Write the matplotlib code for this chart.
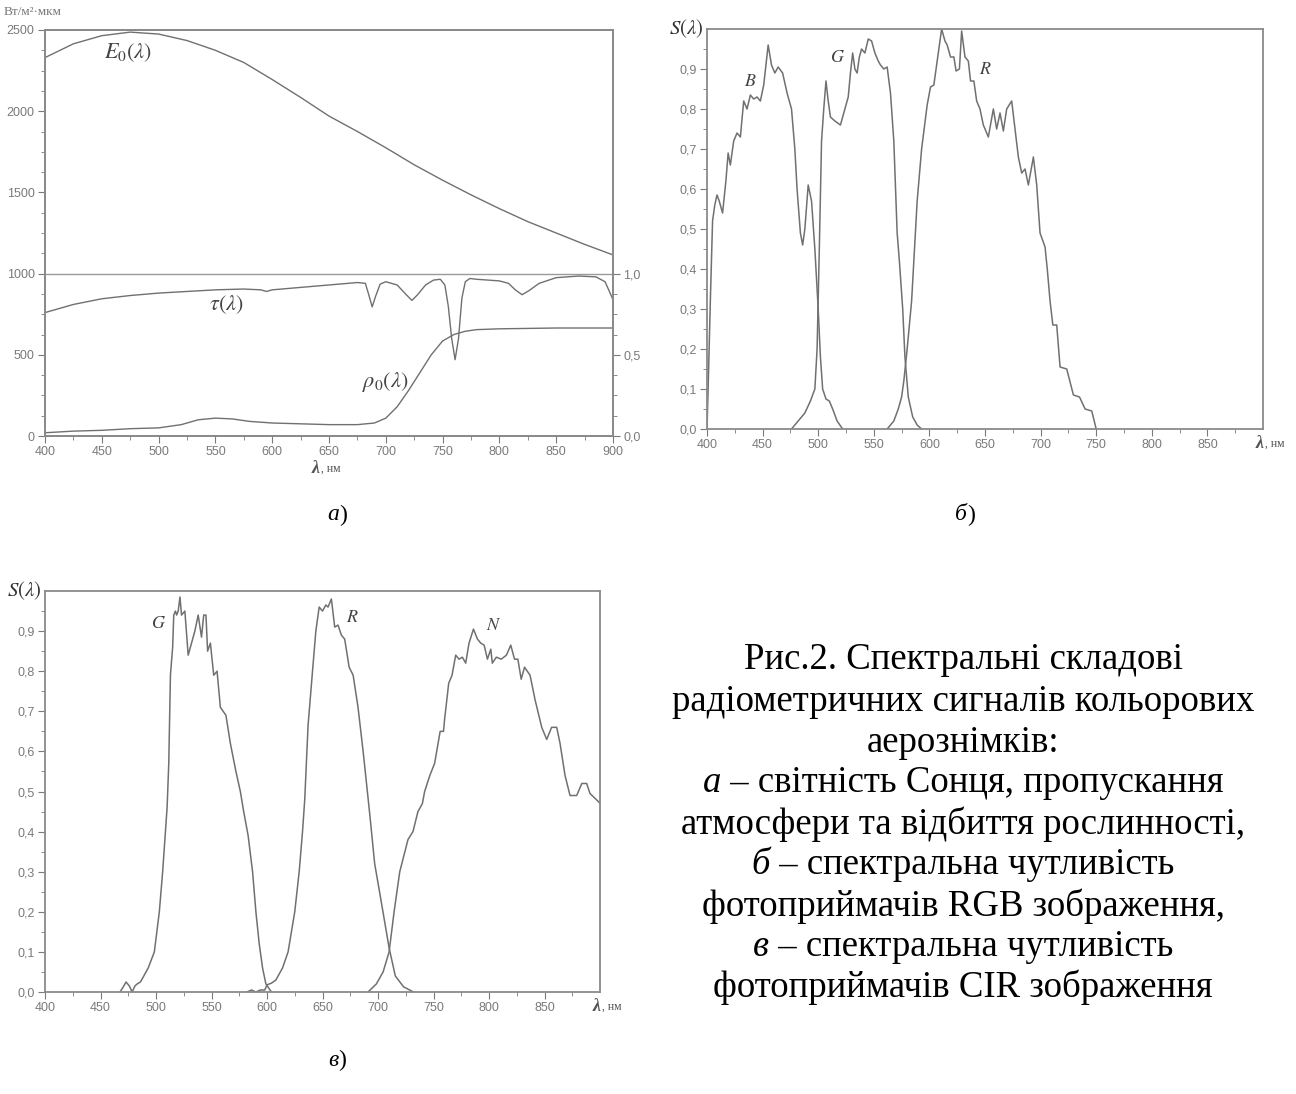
import numpy as np
import matplotlib
matplotlib.use("Agg")
import matplotlib.pyplot as plt
from matplotlib.ticker import FuncFormatter, MultipleLocator

plt.rcParams['font.family'] = ['Liberation Sans', 'DejaVu Sans']
plt.rcParams['mathtext.fontset'] = 'stix'

# ---- панель а: світність Сонця, пропускання атмосфери, відбиття рослинності
lam_E = [400, 425, 450, 475, 500, 525, 550, 575, 600, 625, 650, 675, 700,
         725, 750, 775, 800, 825, 850, 875, 900]
E0 = [2330, 2415, 2465, 2487, 2475, 2435, 2375, 2300, 2195, 2085, 1970, 1875,
      1775, 1670, 1575, 1485, 1400, 1320, 1250, 1180, 1115]

lam_tau = [400, 425, 450, 475, 500, 525, 550, 575, 590, 595, 600, 625, 650,
           675, 682, 685, 688, 691, 695, 700, 710, 718, 723, 728, 735, 742,
           748, 752, 755, 758, 761, 764, 767, 770, 774, 780, 790, 800, 808,
           814, 820, 826, 835, 850, 870, 885, 893, 900]
tau = [0.76, 0.81, 0.845, 0.865, 0.88, 0.89, 0.9, 0.905, 0.9, 0.89, 0.9,
       0.915, 0.93, 0.945, 0.94, 0.87, 0.795, 0.86, 0.935, 0.95, 0.93, 0.87,
       0.835, 0.87, 0.93, 0.96, 0.965, 0.93, 0.8, 0.6, 0.47, 0.6, 0.85, 0.95,
       0.97, 0.965, 0.96, 0.955, 0.94, 0.9, 0.87, 0.895, 0.94, 0.975, 0.985,
       0.98, 0.95, 0.84]

lam_rho = [400, 425, 450, 475, 500, 520, 535, 550, 565, 580, 600, 625, 650,
           675, 690, 700, 710, 720, 730, 740, 750, 760, 770, 780, 800, 850, 900]
rho = [0.02, 0.03, 0.035, 0.045, 0.05, 0.07, 0.1, 0.11, 0.105, 0.09, 0.08,
       0.075, 0.07, 0.07, 0.08, 0.11, 0.18, 0.28, 0.39, 0.5, 0.585, 0.625,
       0.645, 0.655, 0.66, 0.665, 0.665]

# ---- панель б: RGB
lam_bB = [400, 401, 403, 405, 407, 409, 411, 414, 417, 419, 421, 424, 427,
          430, 433, 436, 439, 442, 445, 448, 451, 455, 458, 461, 464, 468,
          472, 476, 479, 481, 484, 486, 488, 491, 494, 497, 500, 502, 504,
          507, 510, 513, 517, 522]
bB = [0.0, 0.1, 0.32, 0.52, 0.56, 0.585, 0.57, 0.54, 0.62, 0.69, 0.66, 0.72,
      0.74, 0.73, 0.82, 0.80, 0.835, 0.825, 0.83, 0.82, 0.86, 0.96, 0.91,
      0.89, 0.905, 0.89, 0.84, 0.80, 0.7, 0.6, 0.49, 0.46, 0.5, 0.61, 0.57,
      0.45, 0.3, 0.18, 0.1, 0.075, 0.07, 0.05, 0.02, 0.0]

lam_bG = [476, 482, 488, 493, 497, 499, 501, 503, 505, 507, 509, 511, 515,
          520, 524, 527, 529, 531, 533, 535, 537, 539, 542, 545, 548, 551,
          554, 556, 559, 562, 565, 568, 571, 573, 576, 578, 581, 585, 589, 593]
bG = [0.0, 0.02, 0.04, 0.07, 0.1, 0.2, 0.45, 0.72, 0.8, 0.87, 0.82, 0.78,
      0.77, 0.76, 0.80, 0.83, 0.89, 0.94, 0.9, 0.89, 0.93, 0.95, 0.94, 0.975,
      0.97, 0.94, 0.92, 0.91, 0.9, 0.905, 0.84, 0.72, 0.49, 0.42, 0.3, 0.18,
      0.08, 0.03, 0.01, 0.0]

lam_bR = [562, 568, 572, 575, 577, 580, 584, 587, 589, 593, 598, 601, 604,
          607, 611, 614, 616, 619, 622, 624, 627, 629, 632, 635, 637, 640,
          642.5, 645.5, 648.5, 653, 657.5, 660.5, 663.5, 666.5, 669.5, 674,
          677, 680, 683, 686, 689, 693.5, 696.5, 699.5, 704, 706, 708.5, 711,
          714.5, 717.5, 723.5, 729.5, 735, 740, 746, 750]
bR = [0.0, 0.02, 0.05, 0.08, 0.12, 0.2, 0.32, 0.47, 0.57, 0.70, 0.81, 0.855,
      0.86, 0.92, 1.0, 0.97, 0.96, 0.93, 0.93, 0.895, 0.9, 0.995, 0.93, 0.92,
      0.87, 0.87, 0.82, 0.80, 0.76, 0.73, 0.80, 0.75, 0.79, 0.745, 0.80,
      0.82, 0.75, 0.68, 0.64, 0.65, 0.61, 0.68, 0.61, 0.49, 0.455, 0.40,
      0.32, 0.26, 0.26, 0.155, 0.15, 0.085, 0.08, 0.05, 0.045, 0.0]

# ---- панель в: CIR
lam_cG = [467.6, 471, 473, 476, 478.5, 481, 483, 486, 489, 493, 498.5, 503,
          506, 508.5, 510, 511.5, 513, 515, 516, 517.5, 518.6, 520, 521.6,
          523, 526, 529, 532, 535, 538, 541, 543, 545, 546.5, 549, 552, 555,
          558, 563, 567, 572, 576, 579, 583, 587, 590, 593, 596, 599, 602, 604]
cG = [0.0, 0.015, 0.025, 0.015, 0.0, 0.015, 0.02, 0.025, 0.04, 0.06, 0.1,
      0.2, 0.3, 0.4, 0.46, 0.57, 0.79, 0.86, 0.94, 0.95, 0.94, 0.95, 0.985,
      0.94, 0.95, 0.84, 0.87, 0.90, 0.94, 0.885, 0.94, 0.94, 0.85, 0.87,
      0.79, 0.80, 0.71, 0.69, 0.62, 0.55, 0.5, 0.45, 0.39, 0.3, 0.2, 0.12,
      0.06, 0.02, 0.008, 0.0]

lam_cR = [582, 586, 590, 594, 598, 600, 604, 608, 611, 614, 619, 622, 625,
          629, 632, 634, 637, 641, 644, 647, 650, 653, 655, 658, 661, 664,
          667, 670, 674, 677.6, 682, 686.6, 692.7, 697, 702, 706.5, 710,
          715.6, 723, 732]
cR = [0.0, 0.005, 0.0, 0.005, 0.005, 0.018, 0.022, 0.03, 0.045, 0.06, 0.1,
      0.15, 0.2, 0.3, 0.4, 0.48, 0.665, 0.8, 0.9, 0.96, 0.95, 0.965, 0.96,
      0.98, 0.91, 0.915, 0.89, 0.88, 0.81, 0.79, 0.71, 0.60, 0.44, 0.32,
      0.24, 0.167, 0.11, 0.04, 0.013, 0.0]

lam_cN = [691, 698.5, 704.6, 710, 714.5, 719.6, 727, 731.5, 736, 740, 742,
          746.7, 751, 756, 759, 760, 763.7, 766.7, 770, 773, 776, 779, 782,
          786, 789.6, 792.6, 795.6, 798.6, 801.6, 803, 806.6, 811, 815.7,
          819.6, 823, 826, 829, 832, 837, 841.4, 847.5, 852, 856.4, 861, 864,
          868.5, 873, 879, 883.6, 888, 891, 898.5, 900]
cN = [0.0, 0.02, 0.05, 0.1, 0.2, 0.3, 0.38, 0.4, 0.45, 0.47, 0.5, 0.54, 0.57,
      0.65, 0.65, 0.68, 0.77, 0.79, 0.84, 0.83, 0.835, 0.82, 0.87, 0.905,
      0.88, 0.87, 0.865, 0.83, 0.855, 0.82, 0.835, 0.83, 0.84, 0.865, 0.83,
      0.83, 0.78, 0.81, 0.79, 0.73, 0.66, 0.63, 0.66, 0.66, 0.62, 0.54, 0.49,
      0.49, 0.52, 0.52, 0.495, 0.475, 0.47]

caption_lines = [
    [("Рис.2. Спектральні складові", "normal")],
    [("радіометричних сигналів кольорових", "normal")],
    [("аерознімків:", "normal")],
    [("а", "italic"), (" – світність Сонця, пропускання", "normal")],
    [("атмосфери та відбиття рослинності,", "normal")],
    [("б", "italic"), (" – спектральна чутливість", "normal")],
    [("фотоприймачів RGB зображення,", "normal")],
    [("в", "italic"), (" – спектральна чутливість", "normal")],
    [("фотоприймачів CIR зображення", "normal")],
]

LINE = '#707070'
SPINE = '#8a8a8a'
TICK = '#7a7a7a'
W, H = 1296, 1094

fig = plt.figure(figsize=(W / 100, H / 100), dpi=100)
fig.patch.set_facecolor('white')


def px_axes(l, t, r, b):
    return fig.add_axes([l / W, 1 - b / H, (r - l) / W, (b - t) / H])


def style_axes(ax):
    for s in ax.spines.values():
        s.set_color(SPINE)
        s.set_linewidth(1.3)
    ax.tick_params(which='both', colors=TICK, labelcolor=TICK, labelsize=9,
                   direction='out')
    ax.tick_params(which='major', length=5, pad=2.5)
    ax.tick_params(which='minor', length=3)


comma = FuncFormatter(lambda v, p: f"{v:.1f}".replace('.', ','))


def lam_label(ax, x, y):
    t = ax.text(x, y, 'λ', transform=ax.transAxes, fontsize=13,
                fontweight='bold', fontstyle='italic', family='Liberation Serif',
                color='#555555', ha='left', va='center')
    ax.annotate(', нм', xy=(1, 0.5), xycoords=t, xytext=(1, 0),
                textcoords='offset points', fontsize=8.5, color='#555555',
                family='Liberation Serif', ha='left', va='center')


# ---------------- панель а ----------------
axa = px_axes(45, 30, 613, 436)
style_axes(axa)
axa.plot(lam_E, E0, color=LINE, lw=1.0)
axa.set_xlim(400, 900)
axa.set_ylim(0, 2500)
axa.set_xticks(range(400, 901, 50))
axa.xaxis.set_minor_locator(MultipleLocator(25))
axa.set_yticks(range(0, 2501, 500))
axa.yaxis.set_minor_locator(MultipleLocator(125))

axa2 = axa.twinx()
style_axes(axa2)
axa2.set_ylim(0, 2.5)
axa2.axhline(1.0, color='#9a9a9a', lw=1.0)
axa2.plot(lam_tau, tau, color=LINE, lw=1.0)
axa2.plot(lam_rho, rho, color=LINE, lw=1.0)
axa2.set_yticks([0, 0.5, 1.0])
axa2.set_yticks(np.arange(0, 1.01, 0.125), minor=True)
axa2.yaxis.set_major_formatter(comma)

axa.text(452, 2360, r'$E_0(\lambda)$', fontsize=16, color='#444444',
         ha='left', va='center')
axa2.text(544, 0.81, r'$\tau(\lambda)$', fontsize=16, color='#444444',
          ha='left', va='center')
axa2.text(679, 0.33, r'$\rho_0(\lambda)$', fontsize=16, color='#444444',
          ha='left', va='center')
axa.text(-0.072, 1.045, 'Вт/м²·мкм', transform=axa.transAxes, fontsize=9.5,
         color='#777777', family='Liberation Serif', ha='left', va='center')
lam_label(axa, 0.47, -0.08)

# ---------------- панель б ----------------
axb = px_axes(707, 29, 1263, 429)
style_axes(axb)
axb.plot(lam_bB, bB, color=LINE, lw=1.1)
axb.plot(lam_bG, bG, color=LINE, lw=1.1)
axb.plot(lam_bR, bR, color=LINE, lw=1.1)

# ---------------- панель в ----------------
axc = px_axes(45, 591, 600, 992)
style_axes(axc)
axc.plot(lam_cG, cG, color=LINE, lw=1.1)
axc.plot(lam_cR, cR, color=LINE, lw=1.1)
axc.plot(lam_cN, cN, color=LINE, lw=1.1)

for ax in (axb, axc):
    ax.set_xlim(400, 900)
    ax.set_ylim(0, 1.0)
    ax.set_xticks(range(400, 851, 50))
    ax.set_xticks(range(425, 876, 50), minor=True)
    ax.set_yticks(np.arange(0, 0.95, 0.1))
    ax.set_yticks(np.arange(0.05, 1.0, 0.1), minor=True)
    ax.yaxis.set_major_formatter(comma)
    ax.text(-0.006, 1.0, r'$S(\lambda)$', transform=ax.transAxes, fontsize=15,
            color='#333333', ha='right', va='center')
    lam_label(ax, 0.987, -0.036)

for x, y, s in [(439, 0.87, 'B'), (517, 0.93, 'G'), (650, 0.90, 'R')]:
    axb.text(x, y, f'${s}$', fontsize=13, color='#444444', ha='center', va='center')
for x, y, s in [(502, 0.92, 'G'), (677, 0.935, 'R'), (804, 0.915, 'N')]:
    axc.text(x, y, f'${s}$', fontsize=13, color='#444444', ha='center', va='center')

# ---------------- підписи ----------------
renderer = fig.canvas.get_renderer()


def mixed_line(cx, cy, parts, size):
    texts = [fig.text(0, cy / H, s, fontsize=size, fontstyle=st,
                      family='Liberation Serif', color='black',
                      ha='left', va='center')
             for s, st in parts]
    widths = [t.get_window_extent(renderer).width for t in texts]
    x = cx - sum(widths) / 2
    for t, w in zip(texts, widths):
        t.set_x(x / W)
        t.set_y(1 - cy / H)
        x += w


mixed_line(337, 515, [('а', 'italic'), (')', 'normal')], 17)
mixed_line(965, 515, [('б', 'italic'), (')', 'normal')], 17)
mixed_line(337, 1060, [('в', 'italic'), (')', 'normal')], 17)

cap_y = [660, 702, 743, 783, 824, 865, 906, 947, 987]
for y, parts in zip(cap_y, caption_lines):
    mixed_line(963, y, parts, 26.5)

fig.savefig('out.png', dpi=100, facecolor='white')
